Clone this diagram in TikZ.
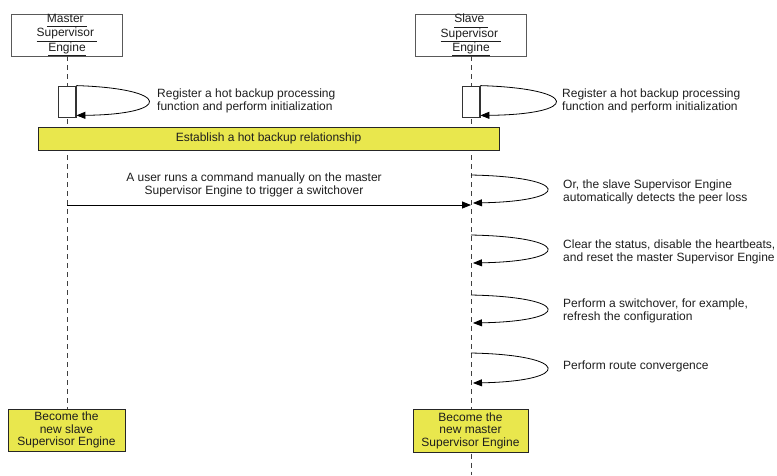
\documentclass[tikz,border=0pt]{standalone}
\usepackage{fontspec}
\setmainfont{Liberation Sans}
\usetikzlibrary{arrows.meta,calc}
\definecolor{boxyellow}{RGB}{233,231,77}
\definecolor{ink}{RGB}{30,30,30}
% underline at one depth, whatever the letters
\newcommand\headul[1]{\underline{#1\vphantom{gy}}}

\begin{document}
\begin{tikzpicture}[x=1pt,y=-1pt,
  font=\fontsize{12}{13}\selectfont,
  every node/.style={text=ink, inner sep=0pt},
  headbox/.style={draw=black!65, fill=white, line width=0.8pt,
    minimum width=111pt, minimum height=42pt, align=center,
    font=\fontsize{12}{11.5}\selectfont},
  notebox/.style={draw=black!85, fill=boxyellow, line width=1pt,
    align=center, font=\fontsize{12}{12.5}\selectfont},
  actbox/.style={draw=black!80, fill=white, line width=0.8pt,
    minimum width=18pt, minimum height=31pt},
  lifeline/.style={draw=black!75, line width=0.9pt, dash pattern=on 5pt off 4pt},
  msg/.style={draw=black, line width=0.8pt, -{Triangle[length=9pt,width=7pt]}},
  note/.style={align=left, anchor=west},
]
\useasboundingbox (0,0) rectangle (777,475);

% participants
\node[headbox] (mhead) at (67,35)
  {\headul{Master~}\\\headul{Supervisor~}\\\headul{Engine}};
\node[headbox] (shead) at (471,35)
  {\headul{Slave~}\\\headul{Supervisor~}\\\headul{Engine}};

% final states
\fill[black!55] (9.5,410.5) rectangle (126,452);
\fill[black!55] (414.5,410.5) rectangle (529,453);
\node[notebox, minimum width=117pt, minimum height=42pt] (mend) at (66.5,430)
  {Become the\\new slave\\Supervisor Engine};
\node[notebox, minimum width=115pt, minimum height=43pt] (send) at (470.5,430.5)
  {Become the\\new master\\Supervisor Engine};
\coordinate (sbottom) at (471,475);

% lifelines
\draw[lifeline] (mhead.south) -- (mhead.south |- mend.north);
\draw[lifeline] (shead.south) -- (shead.south |- send.north);
\draw[lifeline] ($(shead.south |- send.south)+(0,1)$) -- (sbottom);

% activations for the hot backup registration
\node[actbox] (mact) at (67,101.5) {};
\node[actbox] (sact) at (471,101.5) {};
\draw[black!80, line width=1.1pt] ([xshift=-0.6pt]mact.north east) -- ([xshift=-0.6pt]mact.south east);
\draw[black!80, line width=1.1pt] ([xshift=-0.6pt]sact.north east) -- ([xshift=-0.6pt]sact.south east);

\draw[msg] (mact.north east) .. controls +(96,3) and +(96,-1) .. ($(mact.south east)+(0,-2)$);
\draw[msg] (sact.north east) .. controls +(100,3) and +(100,-1) .. ($(sact.south east)+(0,-2)$);
\node[note] (mregtext) at (157,101)
  {Register a hot backup processing\\function and perform initialization};
\node[note] (sregtext) at (562,101)
  {Register a hot backup processing\\function and perform initialization};

% hot backup relationship
\node[notebox, minimum width=461pt, minimum height=23pt] (hotbar) at (268.5,138.5)
  {Establish a hot backup relationship};

% manual switchover
\coordinate (mmsg) at (67,205);
\coordinate (smsg) at (471,205);
\draw[msg] (mmsg) -- (smsg);
\node[align=center] (usertext) at (254,184.5)
  {A user runs a command manually on the master\\Supervisor Engine to trigger a switchover};

% slave self steps
\coordinate (l1a) at (471,175); \coordinate (l1b) at (473,203);
\coordinate (l2a) at (471,235); \coordinate (l2b) at (473,263);
\coordinate (l3a) at (471,295); \coordinate (l3b) at (473,323);
\coordinate (l4a) at (471,353); \coordinate (l4b) at (473,383);
\foreach \i in {1,2,3,4}
  \draw[msg] (l\i a) .. controls +(100,2) and +(100,-2) .. (l\i b);

\node[note] (t1) at (563,191.5)
  {Or, the slave Supervisor Engine\\automatically detects the peer loss};
\node[note] (t2) at (563,251.5)
  {Clear the status, disable the heartbeats,\\and reset the master Supervisor Engine};
\node[note] (t3) at (563,311)
  {Perform a switchover, for example,\\refresh the configuration};
\node[note] (t4) at (563,366)
  {Perform route convergence};
\end{tikzpicture}
\end{document}
